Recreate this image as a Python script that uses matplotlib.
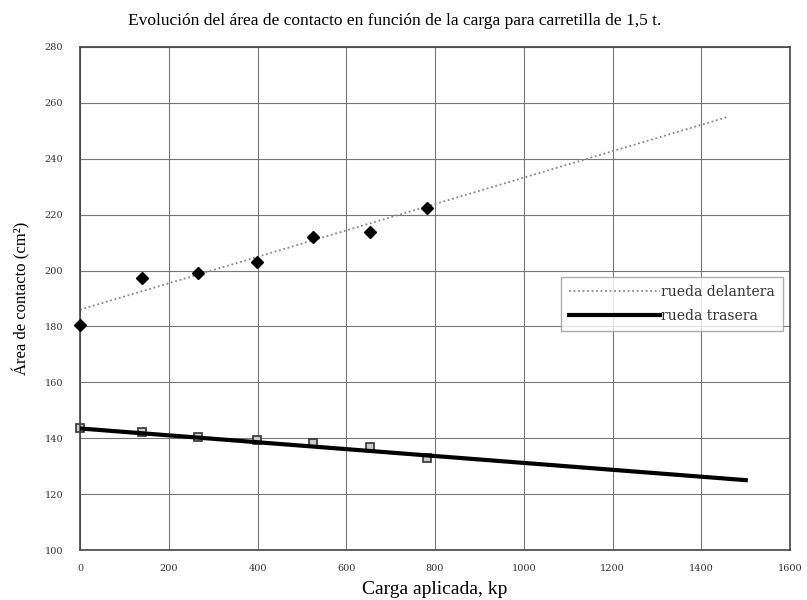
import matplotlib.pyplot as plt

# Data
carga = [0, 139, 265, 398, 524, 654, 782]
area_delantera = [180.5, 197.5, 199.3, 202.9, 212.1, 213.9, 222.5]
area_trasera = [143.5, 142.1, 140.4, 139.3, 138.2, 136.8, 132.9]

# trend line end points
tend_del_x = [0, 1460]
tend_del_y = [186.0, 255.0]
tend_tra_x = [0, 1500]
tend_tra_y = [143.5, 125.0]

xticks = [0, 200, 400, 600, 800, 1000, 1200, 1400, 1600]
yticks = [100, 120, 140, 160, 180, 200, 220, 240, 260, 280]

plt.rcParams['font.family'] = ['Liberation Serif', 'DejaVu Serif']

fig = plt.figure(figsize=(8.07, 6.0), dpi=100)
ax = fig.add_axes([0.0991, 0.0833, 0.880, 0.8384])

ax.plot(tend_del_x, tend_del_y, color='#888888', lw=1.3, ls=(0, (1, 1.5)),
        label='rueda delantera', zorder=2)
ax.plot(tend_tra_x, tend_tra_y, color='black', lw=3, label='rueda trasera', zorder=3)
ax.plot(carga, area_delantera, 'D', color='black', ms=6, zorder=4, clip_on=False)
ax.plot(carga, area_trasera, 's', mfc='#cccccc', mec='#333333', mew=1.2, ms=6,
        zorder=2, clip_on=False)

ax.set_xlim(0, 1600)
ax.set_ylim(100, 280)
ax.set_xticks(xticks)
ax.set_yticks(yticks)
ax.tick_params(length=0, labelsize=7, labelcolor='#333333')
ax.tick_params(axis='y', pad=12)
ax.tick_params(axis='x', pad=10)
for lab in ax.get_xticklabels() + ax.get_yticklabels():
    lab.set_family('DejaVu Serif')
ax.grid(True, color='#777777', lw=0.8)
for s in ax.spines.values():
    s.set_color('#444444')
    s.set_linewidth(1.2)

fig.suptitle('Evolución del área de contacto en función de la carga para carretilla de 1,5 t.',
             x=395 / 807, y=0.978, fontsize=12.5)
ax.set_xlabel('Carga aplicada, kp', fontsize=14, labelpad=6)
ax.set_ylabel('Área de contacto (cm²)', fontsize=12, labelpad=10)

leg = ax.legend(loc='upper right', bbox_to_anchor=(1.0, 0.557),
                prop={'family': 'DejaVu Serif', 'size': 10},
                frameon=True, fancybox=False, edgecolor='#999999',
                handlelength=6.5, handletextpad=0.1, borderpad=0.6, labelspacing=0.7)
for t in leg.get_texts():
    t.set_color('#333333')

fig.savefig('out.png', dpi=100)
